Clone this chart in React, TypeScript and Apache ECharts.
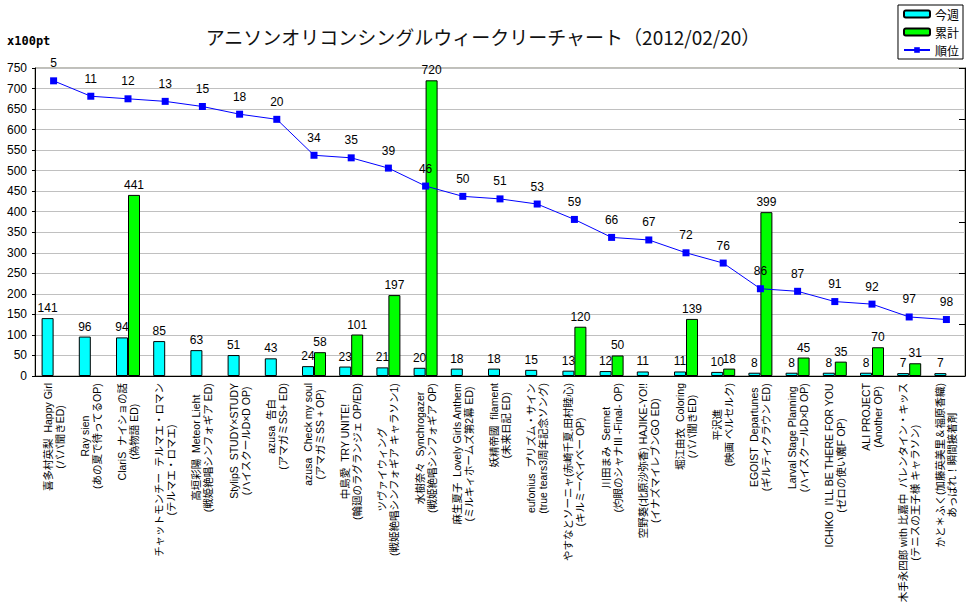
import React, { useEffect, useRef } from "react";
import * as echarts from "echarts";

const categories = [
  "喜多村英梨  Happy Girl\n(パパ聞きED)",
  "Ray sien\n(あの夏で待ってるOP)",
  "ClariS  ナイショの話\n(偽物語 ED)",
  "チャットモンチー  テルマエ・ロマン\n(テルマエ・ロマエ)",
  "高垣彩陽  Meteor Lieht\n(戦姫絶唱シンフォギア ED)",
  "StylipS  STUDY×STUDY\n(ハイスクールD×D OP)",
  "azusa  告白\n(アマガミSS+ ED)",
  "azusa  Check my soul\n(アマガミSS + OP)",
  "中島愛  TRY UNITE!\n(輪廻のラグランジェ OP/ED)",
  "ツヴァイウィング\n(戦姫絶唱シンフォギア キャラソン1)",
  "水樹奈々  Synchrogazer\n(戦姫絶唱シンフォギア OP)",
  "麻生夏子  Lovely Girls Anthem\n(ミルキィホームズ第2幕 ED)",
  "妖精帝國  filament\n(未来日記 ED)",
  "eufonius  プリズム・サイン\n(true tears3周年記念ソング)",
  "やすなとソーニャ(赤崎千夏,田村睦心)\n(キルミーベイベー OP)",
  "川田まみ  Sermet\n(灼眼のシャナIII -Final- OP)",
  "空野葵(北原沙弥香) HAJIKE-YO!!\n(イナズマイレブンGO ED)",
  "堀江由衣  Coloring\n(パパ聞きED)",
  "平沢進\n(映画 ベルセルク)",
  "EGOIST  Departunes\n(ギルティクラウン ED)",
  "Larval Stage Planning\n(ハイスクールD×D OP)",
  "ICHIKO  I'LL BE THERE FOR YOU\n(ゼロの使い魔F OP)",
  "ALI PROJECT\n(Another OP)",
  "木手永四郎 with 比嘉中  バレンタイン・キッス\n(テニスの王子様 キャラソン)",
  "かと＊ふく(加藤英美里＆福原香織)\nあっぱれ！瞬間接着剤",
];

const thisWeek = [141, 96, 94, 85, 63, 51, 43, 24, 23, 21, 20, 18, 18, 15, 13, 12, 11, 11, 10, 8, 8, 8, 8, 7, 7];
const total = [null, null, 441, null, null, null, null, 58, 101, 197, 720, null, null, null, 120, 50, null, 139, 18, 399, 45, 35, 70, 31, null];
const rank = [5, 11, 12, 13, 15, 18, 20, 34, 35, 39, 46, 50, 51, 53, 59, 66, 67, 72, 76, 86, 87, 91, 92, 97, 98];

const legendNames = ["今週", "累計", "順位"];
const titleText = "アニソンオリコンシングルウィークリーチャート（2012/02/20）";
const unitText = "x100pt";

const FONT = "'Liberation Sans', 'Noto Sans CJK JP', sans-serif";
const LABEL_SIZE = 10.5;
const LABEL_GAP = 7; // distance from axis to the label's end
const HALF_SPAN = 115; // half of the reserved label length

export default function App() {
  const ref = useRef<HTMLDivElement>(null);
  useEffect(() => {
    const chart = echarts.init(ref.current!, null, { renderer: "svg" });
    const ctx = document.createElement("canvas").getContext("2d")!;
    ctx.font = `${LABEL_SIZE}px ${FONT}`;
    const catData = categories.map((c) => {
      const w = Math.max(...c.split("\n").map((s) => ctx.measureText(s).width));
      const padLeft = Math.max(0, 2 * HALF_SPAN - w);
      return {
        value: c,
        textStyle: {
          align: "center",
          verticalAlign: "middle",
          fontSize: LABEL_SIZE,
          lineHeight: 12,
          color: "#000",
          fontFamily: FONT,
          padding: [0, 0, 0, padLeft],
        },
      };
    });
    const barLabel = { show: true, position: "top", distance: 4, fontSize: 12, color: "#000", fontFamily: FONT };
    chart.setOption({
      animation: false,
      backgroundColor: "#fff",
      textStyle: { fontFamily: FONT },
      title: {
        text: titleText,
        left: 478,
        top: 22,
        textAlign: "center",
        textStyle: { fontSize: 19, fontWeight: "normal", color: "#111", fontFamily: "'Noto Sans CJK JP', sans-serif" },
      },
      graphic: [
        { type: "text", left: 7, top: 35, style: { text: unitText, font: "bold 12px 'DejaVu Sans Mono'", fill: "#000" } },
      ],
      legend: {
        orient: "vertical",
        right: 7,
        top: 5,
        backgroundColor: "#fff",
        borderColor: "#000",
        borderWidth: 1,
        borderRadius: 0,
        padding: [2, 4, 2, 5],
        itemGap: 4,
        itemWidth: 26,
        itemHeight: 7,
        textStyle: { fontSize: 12, lineHeight: 14, color: "#000", fontFamily: "'Noto Sans CJK JP', sans-serif" },
        data: legendNames,
      },
      grid: {
        left: 35,
        right: 5,
        top: 68,
        bottom: 228,
        show: true,
        borderColor: "#808070",
        borderWidth: 1,
        containLabel: false,
        outerBoundsMode: "none",
      },
      xAxis: {
        type: "category",
        data: catData,
        axisLine: { lineStyle: { color: "#000" } },
        axisTick: { length: 3, lineStyle: { color: "#000" } },
        axisLabel: {
          interval: 0,
          rotate: 90,
          align: "center",
          verticalAlign: "middle",
          margin: LABEL_GAP + HALF_SPAN,
          fontSize: LABEL_SIZE,
          lineHeight: 12,
          color: "#000",
          fontFamily: FONT,
        },
      },
      yAxis: [
        {
          type: "value",
          min: 0,
          max: 750,
          interval: 50,
          axisLine: { show: true, lineStyle: { color: "#000" } },
          axisTick: { show: true, length: 3, lineStyle: { color: "#000" } },
          axisLabel: { fontSize: 12, color: "#000", margin: 8, fontFamily: FONT },
          splitLine: { lineStyle: { color: "#c0c0c0" } },
        },
        {
          type: "value",
          min: 0,
          max: 120,
          interval: 20,
          inverse: true,
          position: "right",
          axisLine: { show: true, lineStyle: { color: "#000" } },
          axisTick: { show: true, inside: true, length: 6, lineStyle: { color: "#000" } },
          axisLabel: { show: false },
          splitLine: { show: false },
        },
      ],
      series: [
        {
          name: legendNames[0],
          type: "bar",
          data: thisWeek,
          barWidth: 12,
          barGap: "0%",
          itemStyle: { color: "#00ffff", borderColor: "#000", borderWidth: 1 },
          label: barLabel,
        },
        {
          name: legendNames[1],
          type: "bar",
          data: total,
          barWidth: 12,
          barGap: "0%",
          itemStyle: { color: "#00ff00", borderColor: "#000", borderWidth: 1 },
          label: barLabel,
        },
        {
          name: legendNames[2],
          type: "line",
          yAxisIndex: 1,
          data: rank,
          symbol: "rect",
          symbolSize: 7,
          lineStyle: { color: "#0000ff", width: 1 },
          itemStyle: { color: "#0000ff" },
          label: { show: true, position: "top", distance: 8, fontSize: 12, color: "#000", fontFamily: FONT },
        },
      ],
    });
    return () => chart.dispose();
  }, []);
  return (
    <div
      ref={ref}
      style={{ position: "fixed", left: 0, top: 0, width: 970, height: 604, background: "#fff" }}
    />
  );
}
